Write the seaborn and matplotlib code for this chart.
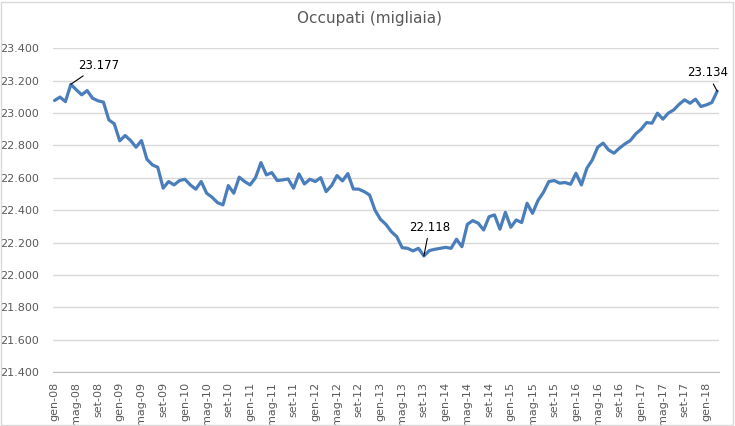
import numpy as np
import pandas as pd
import seaborn as sns
import matplotlib.pyplot as plt
from matplotlib.patches import Rectangle

# Occupati (migliaia), monthly gen-08 .. mar-18
mesi = ["gen", "feb", "mar", "apr", "mag", "giu",
        "lug", "ago", "set", "ott", "nov", "dic"]
anni = list(range(8, 19))

occupati = [
    23077, 23098, 23070, 23177, 23143, 23112, 23138, 23091, 23075, 23067, 22957, 22933,
    22828, 22861, 22830, 22789, 22830, 22715, 22680, 22665, 22536, 22577, 22556, 22583,
    22591, 22556, 22530, 22577, 22505, 22480, 22447, 22433, 22552, 22505, 22604, 22577,
    22556, 22601, 22694, 22618, 22632, 22583, 22587, 22593, 22536, 22624, 22562, 22591,
    22577, 22601, 22515, 22552, 22614, 22581, 22626, 22531, 22530, 22515, 22494, 22400,
    22344, 22313, 22268, 22237, 22169, 22165, 22149, 22165, 22118, 22151, 22159, 22165,
    22171, 22165, 22221, 22175, 22313, 22336, 22320, 22278, 22360, 22371, 22283, 22387,
    22295, 22340, 22324, 22443, 22381, 22460, 22510, 22577, 22583, 22567, 22571, 22560,
    22628, 22556, 22659, 22710, 22789, 22814, 22772, 22752, 22783, 22809, 22830, 22871,
    22900, 22941, 22937, 22999, 22962, 22999, 23019, 23054, 23081, 23060, 23085, 23040,
    23050, 23064, 23134,
]

etichette = [f"{m}-{a:02d}" for a in anni for m in mesi][:len(occupati)]
df = pd.DataFrame({"pos": range(len(occupati)), "mese": etichette, "occupati": occupati})

y_ticks = list(range(21400, 23401, 200))
annotazioni = [(3, 23177), (68, 22118), (122, 23134)]

sns.set_style("white")
plt.rcParams['font.family'] = ['DejaVu Sans']

fig = plt.figure(figsize=(7.35, 4.26), dpi=100)
ax = fig.add_axes([0.072, 0.126, 0.906, 0.761])

sns.lineplot(data=df, x="pos", y="occupati", ax=ax,
             color="#4A7EBB", linewidth=2.3)

ax.set_ylim(21400, 23400)
ax.set_yticks(y_ticks)
ax.set_yticklabels([f"{v:,}".replace(",", ".") for v in y_ticks],
                   fontsize=8, color="#595959")
ax.yaxis.grid(True, color="#D9D9D9", linewidth=1)
ax.set_axisbelow(True)

ax.set_xlim(-0.3, len(occupati) - 0.7)
xt = list(range(0, len(occupati), 4))
ax.set_xticks(xt)
ax.set_xticklabels([etichette[i] for i in xt], rotation=90,
                   fontsize=8, color="#595959")
ax.tick_params(axis="x", length=4, color="#BFBFBF", width=1, pad=3)
ax.tick_params(axis="y", length=0, pad=10)

for s in ["left", "right", "top"]:
    ax.spines[s].set_visible(False)
ax.spines["bottom"].set_color("#BFBFBF")

ax.set_xlabel("")
ax.set_ylabel("")
fig.suptitle("Occupati (migliaia)", x=0.503, y=0.975, fontsize=11, color="#595959")

# data labels with leader lines
offsets = [(20, 9), (4, 16), (-7, 8.5)]
for (i, v), (dx, dy) in zip(annotazioni, offsets):
    ax.annotate(f"{v:,}".replace(",", "."), xy=(i, v),
                xytext=(dx, dy), textcoords="offset points",
                ha="center", va="bottom", fontsize=8.5, color="black",
                arrowprops=dict(arrowstyle="-", color="black", lw=0.8,
                                shrinkA=1, shrinkB=0))

# chart area border
fig.patches.append(Rectangle((0.002, 0.003), 0.995, 0.993, transform=fig.transFigure,
                             fill=False, edgecolor="#D9D9D9", linewidth=1))

fig.savefig("out.png", dpi=100)
